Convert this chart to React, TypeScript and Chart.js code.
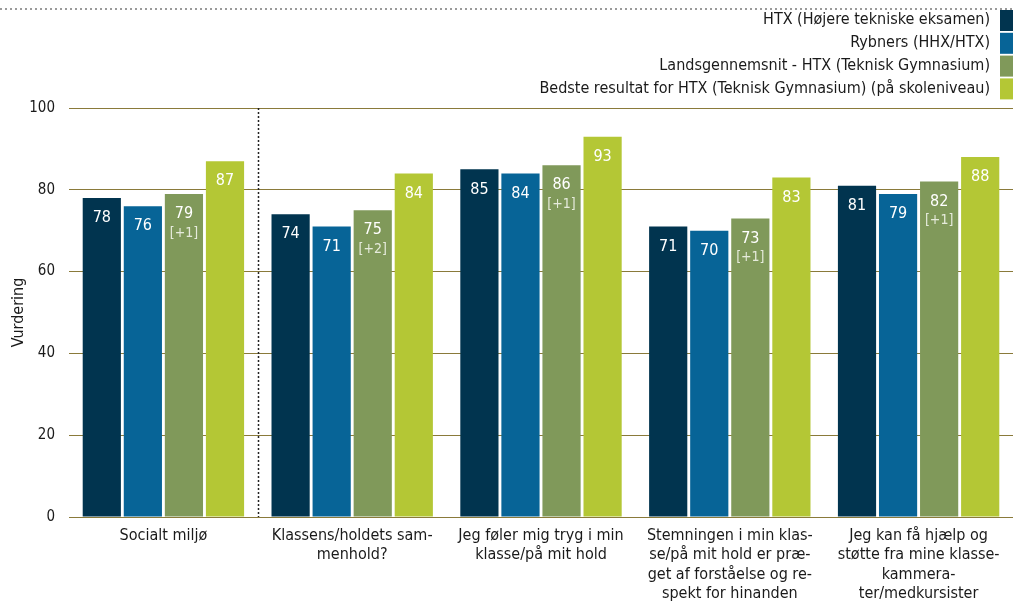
import React, { useEffect, useRef } from "react";
import { Chart, registerables } from "chart.js";

Chart.register(...registerables);

const FONT = "'DejaVu Sans Condensed', 'DejaVu Sans', sans-serif";

const categories: (string | string[])[] = [
  "Socialt miljø",
  ["Klassens/holdets sam-", "menhold?"],
  ["Jeg føler mig tryg i min", "klasse/på mit hold"],
  ["Stemningen i min klas-", "se/på mit hold er præ-", "get af forståelse og re-", "spekt for hinanden"],
  ["Jeg kan få hjælp og", "støtte fra mine klasse-", "kammera-", "ter/medkursister"],
];

const seriesNames = [
  "HTX (Højere tekniske eksamen)",
  "Rybners (HHX/HTX)",
  "Landsgennemsnit - HTX (Teknisk Gymnasium)",
  "Bedste resultat for HTX (Teknisk Gymnasium) (på skoleniveau)",
];

const htx = [78, 74, 85, 71, 81];
const rybners = [76, 71, 84, 70, 79];
const landsgennemsnit = [79, 75, 86, 73, 82];
const bedste = [87, 84, 93, 83, 88];
const diffLabels = ["[+1]", "[+2]", "[+1]", "[+1]", "[+1]"];

const colors = ["#01344f", "#076497", "#80995a", "#b4c735"];
const yTicks = [0, 20, 40, 60, 80, 100];

const decorPlugin = {
  id: "decor",
  afterDatasetsDraw(chart: any) {
    const ctx = chart.ctx;
    const area = chart.chartArea;
    const xs = chart.scales.x;
    ctx.save();
    // value labels
    chart.data.datasets.forEach((ds: any, di: number) => {
      const meta = chart.getDatasetMeta(di);
      meta.data.forEach((bar: any, i: number) => {
        ctx.fillStyle = "#ffffff";
        ctx.font = `16px ${FONT}`;
        ctx.textAlign = "center";
        ctx.textBaseline = "middle";
        ctx.fillText(String(ds.data[i]), bar.x, bar.y + 20);
        if (di === 2) {
          ctx.fillStyle = "#e6ebdc";
          ctx.font = `14px ${FONT}`;
          ctx.fillText(diffLabels[i], bar.x, bar.y + 39);
        }
      });
    });
    // separator dotted line
    const sepX = Math.round((xs.getPixelForValue(0) + xs.getPixelForValue(1)) / 2) + 0.5;
    ctx.strokeStyle = "#222222";
    ctx.lineWidth = 1.5;
    ctx.setLineDash([2, 2]);
    ctx.beginPath();
    ctx.moveTo(sepX, area.top);
    ctx.lineTo(sepX, area.bottom);
    ctx.stroke();
    // top dotted line
    ctx.strokeStyle = "#9a9a9a";
    ctx.lineWidth = 2;
    ctx.setLineDash([2, 3]);
    ctx.beginPath();
    ctx.moveTo(0, 9);
    ctx.lineTo(chart.width, 9);
    ctx.stroke();
    ctx.setLineDash([]);
    // legend
    ctx.font = `16px ${FONT}`;
    ctx.textAlign = "right";
    ctx.textBaseline = "middle";
    seriesNames.forEach((name, i) => {
      const cy = 20 + i * 22.8;
      ctx.fillStyle = "#1a1a1a";
      ctx.fillText(name, 990, cy);
      ctx.fillStyle = colors[i];
      ctx.fillRect(1000, cy - 10, 13, 21);
    });
    ctx.restore();
  },
};

export default function App() {
  const ref = useRef<HTMLCanvasElement>(null);
  useEffect(() => {
    document.body.style.margin = "0";
    const canvas = ref.current!;
    const data = [htx, rybners, landsgennemsnit, bedste];
    const chart = new Chart(canvas, {
      type: "bar",
      data: {
        labels: categories,
        datasets: seriesNames.map((n, i) => ({
          label: n,
          data: data[i],
          backgroundColor: colors[i],
          borderWidth: 0,
          categoryPercentage: 0.87,
          barPercentage: 0.93,
        })),
      },
      options: {
        animation: false,
        responsive: false,
        maintainAspectRatio: false,
        layout: { padding: { top: 108, right: 0, left: 0, bottom: 0 } },
        plugins: { legend: { display: false }, tooltip: { enabled: false } },
        scales: {
          x: {
            grid: { display: false },
            border: { display: true, color: "#8a7a3a", width: 1 },
            ticks: {
              color: "#1a1a1a",
              font: { family: FONT, size: 16, lineHeight: 1.22 },
              maxRotation: 0,
              autoSkip: false,
              padding: 1,
            },
            afterFit(scale: any) {
              scale.height = 86;
            },
          },
          y: {
            min: 0,
            max: 100,
            afterBuildTicks(scale: any) {
              scale.ticks = yTicks.map((v) => ({ value: v }));
            },
            grid: { color: "#8a7a3a", drawTicks: false, lineWidth: 1 },
            border: { display: false },
            ticks: {
              color: "#1a1a1a",
              font: { family: FONT, size: 15 },
              padding: 14,
            },
            title: {
              display: true,
              text: "Vurdering",
              color: "#1a1a1a",
              font: { family: FONT, size: 16 },
              padding: { top: 9, bottom: 4 },
            },
            afterFit(scale: any) {
              scale.width = 69;
            },
          },
        },
      },
      plugins: [decorPlugin],
    });
    return () => chart.destroy();
  }, []);
  return (
    <div style={{ width: 1013, height: 603 }}>
      <canvas ref={ref} width={1013} height={603} style={{ display: "block" }} />
    </div>
  );
}
